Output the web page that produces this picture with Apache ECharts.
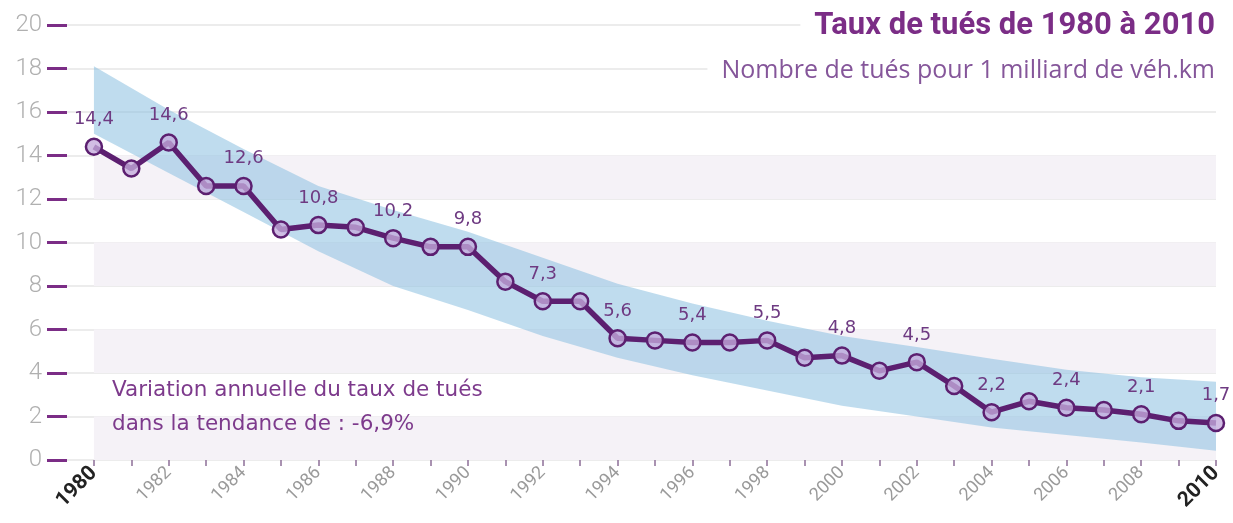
<!DOCTYPE html>
<html>
<head>
<meta charset="utf-8">
<script src="https://cdn.jsdelivr.net/npm/echarts@6/dist/echarts.min.js"></script>
<style>
  html, body { margin: 0; padding: 0; background: #fff; }
  #chart { width: 1233px; height: 523px; }
</style>
</head>
<body>
<div id="chart"></div>
<script>
// données
var annees = [1980, 1981, 1982, 1983, 1984, 1985, 1986, 1987, 1988, 1989, 1990,
  1991, 1992, 1993, 1994, 1995, 1996, 1997, 1998, 1999, 2000,
  2001, 2002, 2003, 2004, 2005, 2006, 2007, 2008, 2009, 2010];
var taux = [14.4, 13.4, 14.6, 12.6, 12.6, 10.6, 10.8, 10.7, 10.2, 9.8, 9.8,
  8.2, 7.3, 7.3, 5.6, 5.5, 5.4, 5.4, 5.5, 4.7, 4.8,
  4.1, 4.5, 3.4, 2.2, 2.7, 2.4, 2.3, 2.1, 1.8, 1.7];

// bande de tendance (bord haut / bord bas)
var anneesBande = [1980, 1982, 1984, 1986, 1988, 1990, 1992, 1994, 1996, 1998, 2000, 2002, 2004, 2006, 2008, 2010];
var bandeHaut = [18.1, 16.1, 14.3, 12.6, 11.5, 10.5, 9.3, 8.1, 7.2, 6.4, 5.7, 5.2, 4.65, 4.15, 3.8, 3.6];
var bandeBas = [15.0, 13.2, 11.4, 9.6, 8.0, 6.9, 5.7, 4.7, 3.9, 3.2, 2.5, 2.0, 1.5, 1.15, 0.8, 0.43];

var yTicks = [0, 2, 4, 6, 8, 10, 12, 14, 16, 18, 20];
var xLabels = [1980, 1982, 1984, 1986, 1988, 1990, 1992, 1994, 1996, 1998, 2000, 2002, 2004, 2006, 2008, 2010];

var violet = '#7b2d86';

var chart = echarts.init(document.getElementById('chart'));

// la bande est dessinée d'un seul polygone (haut puis bas à l'envers)
function dessinerBande(params, api) {
  if (params.dataIndex !== 0) return null;
  var pts = [];
  for (var i = 0; i < anneesBande.length; i++) {
    pts.push(api.coord([anneesBande[i], bandeHaut[i]]));
  }
  for (var j = anneesBande.length - 1; j >= 0; j--) {
    pts.push(api.coord([anneesBande[j], bandeBas[j]]));
  }
  return {
    type: 'polygon',
    shape: { points: pts },
    style: { fill: 'rgba(140, 192, 224, 0.56)' }
  };
}

var option = {
  animation: false,
  title: [
    {
      text: 'Taux de tués de 1980 à 2010',
      right: 14,
      top: 9,
      backgroundColor: '#fff',
      padding: [2, 4, 2, 14],
      textStyle: { fontFamily: 'Roboto', fontSize: 31, fontWeight: 'bold', color: violet }
    },
    {
      text: 'Nombre de tués pour 1 milliard de véh.km',
      right: 14,
      top: 56,
      backgroundColor: '#fff',
      padding: [2, 4, 2, 14],
      textStyle: { fontFamily: 'Open Sans', fontSize: 25, fontWeight: 'normal', color: '#85569a' }
    }
  ],
  grid: { left: 67, right: 17, top: 25, bottom: 63 },
  xAxis: {
    type: 'value',
    min: 1979.28,
    max: 2010,
    splitLine: { show: false },
    axisLine: { show: false },
    axisTick: {
      show: true,
      customValues: annees,
      length: 6,
      lineStyle: { color: '#8d6f98', width: 1.5 }
    },
    axisLabel: {
      customValues: xLabels,
      rotate: 45,
      margin: 10,
      fontFamily: 'Roboto',
      fontSize: 18,
      color: '#9a9a9a',
      formatter: function (v) {
        if (v === 1980 || v === 2010) return '{b|' + v + '}';
        return String(v);
      },
      rich: {
        b: { fontFamily: 'Roboto', fontSize: 21, fontWeight: 'bold', color: '#222' }
      }
    }
  },
  yAxis: {
    type: 'value',
    min: 0,
    max: 20,
    interval: 2,
    axisLine: { show: false },
    axisTick: { show: true, length: 20, lineStyle: { color: violet, width: 3 } },
    axisLabel: {
      margin: 25,
      fontFamily: 'Roboto',
      fontSize: 24,
      fontWeight: 300,
      color: '#b0b0b0',
      formatter: function (v) { return yTicks.indexOf(v) >= 0 ? String(v) : ''; }
    },
    splitLine: { show: true, lineStyle: { color: '#e6e6e6', width: 1.5 } }
  },
  graphic: [
    {
      type: 'text',
      left: 112,
      top: 373,
      z: 10,
      style: {
        text: 'Variation annuelle du taux de tués\ndans la tendance de : -6,9%',
        fontFamily: 'DejaVu Sans',
        fontSize: 21.5,
        lineHeight: 34,
        fill: '#7d3a8c'
      }
    }
  ],
  series: [
    {
      name: 'fond',
      type: 'line',
      symbol: 'none',
      z: 1,
      lineStyle: { opacity: 0 },
      data: [],
      markArea: {
        silent: true,
        itemStyle: { color: '#f5f2f7' },
        data: [
          [{ coord: [1980, 0] }, { coord: [2010, 2] }],
          [{ coord: [1980, 4] }, { coord: [2010, 6] }],
          [{ coord: [1980, 8] }, { coord: [2010, 10] }],
          [{ coord: [1980, 12] }, { coord: [2010, 14] }]
        ]
      }
    },
    {
      name: 'bande',
      type: 'custom',
      z: 2,
      silent: true,
      renderItem: dessinerBande,
      data: anneesBande.map(function (a, i) { return [a, bandeBas[i], bandeHaut[i]]; })
    },
    {
      name: 'Taux de tués',
      type: 'line',
      z: 3,
      symbol: 'circle',
      symbolSize: 16,
      lineStyle: { color: '#5c1f70', width: 5.5 },
      itemStyle: { color: 'rgba(196, 172, 220, 0.78)', borderColor: '#5c1f70', borderWidth: 2.5 },
      label: {
        show: true,
        position: 'top',
        distance: 9,
        fontFamily: 'DejaVu Sans',
        fontSize: 18,
        color: '#6e3a82',
        formatter: function (p) {
          return p.value[0] % 2 === 0 ? String(p.value[1]).replace('.', ',') : '';
        }
      },
      data: annees.map(function (a, i) { return [a, taux[i]]; })
    }
  ]
};

chart.setOption(option);
</script>
</body>
</html>
